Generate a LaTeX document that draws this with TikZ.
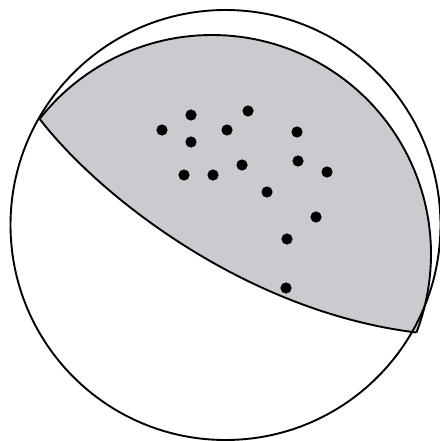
\documentclass[tikz,border=0pt]{standalone}
\definecolor{regiongray}{RGB}{202,202,207}
\begin{document}
\begin{tikzpicture}[x=1pt,y=-1pt,line width=1.9pt,
  pole/.style={fill=black}]
\useasboundingbox (0,0) rectangle (439,441);
\coordinate (P1) at (39.6,118.9);
\coordinate (P2) at (416.5,332.5);
% shaded region between the great-circle arc and the lower curve
\fill[regiongray] plot[domain=-141.9:21,samples=150] ({212+219*cos(\x)},{254+219*sin(\x)})
  .. controls (248,312) and (100.6,198) .. (P1) -- cycle;
% outer primitive circle
\draw (225.5,225) circle[radius=215pt];
% upper arc
\draw plot[domain=-141.9:21,samples=150] ({212+219*cos(\x)},{254+219*sin(\x)});
% lower curve
\draw (P1) .. controls (100.6,198) and (248,312) .. (P2);
% poles
\foreach \p in {(162,130),(191,115),(191,142),(184,175),(213,175),(248,111),(227,130),(297,132),(242,165),(298,161),(327,172),(267,192),(316,217),(287,239),(286,288)}
  \fill[pole] \p circle[radius=5.6pt];
\end{tikzpicture}
\end{document}
